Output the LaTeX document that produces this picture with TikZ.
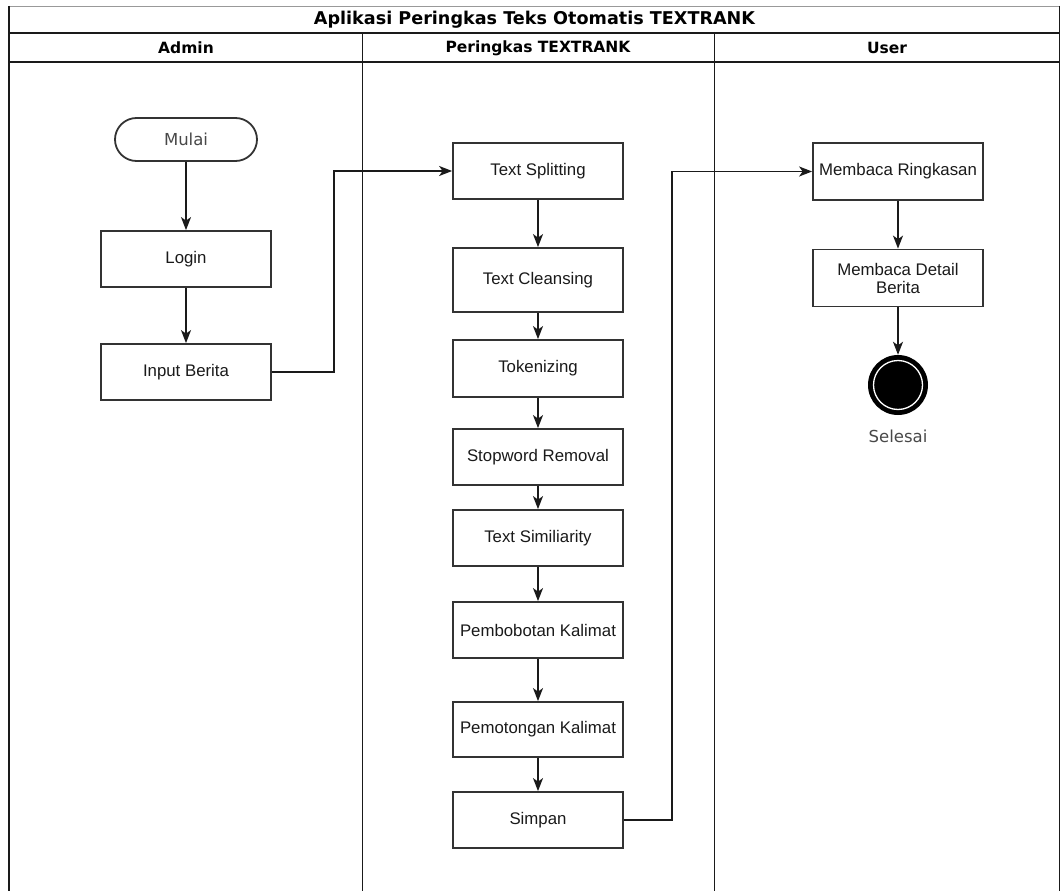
\documentclass[tikz,border=0pt]{standalone}
\usepackage{fontspec}
\setmainfont{Liberation Sans}
\newfontfamily\hdfont{DejaVu Sans}
\usetikzlibrary{arrows.meta}
\definecolor{lineC}{HTML}{1A1A1A}
\definecolor{boxC}{HTML}{333333}
\definecolor{txtC}{HTML}{1A1A1A}
\begin{document}
\begin{tikzpicture}[x=1pt,y=-1pt,
  procbox/.style={draw=boxC,line width=1.8pt,fill=white,minimum width=170pt,minimum height=56pt,inner sep=0pt,align=center,font=\fontsize{16.8}{19}\selectfont,text=txtC},
  pillbox/.style={draw=boxC,line width=1.8pt,fill=white,minimum width=142pt,minimum height=43pt,rounded corners=21.5pt,inner sep=0pt,font=\hdfont\fontsize{16.5}{19}\selectfont,text=txtC!80},
  flow/.style={draw=lineC,line width=1.5pt,-{Stealth[length=13pt,width=10pt,inset=3.5pt]}},
  lanehead/.style={font=\hdfont\bfseries\fontsize{15.5}{18}\selectfont,text=black},
  frameline/.style={draw=lineC,line width=1.7pt}
]
\useasboundingbox (0,0) rectangle (1061,891);
% frame
\draw[draw=gray!80,line width=0.9pt] (9,6) -- (1059.5,6);
\draw[frameline,line width=2.2pt] (9,6) -- (9,895);
\draw[frameline] (1059.5,6) -- (1059.5,895);
\draw[frameline] (9,33) -- (1059.5,33);
\draw[frameline] (9,62) -- (1059.5,62);
\draw[frameline] (362.5,33) -- (362.5,895);
\draw[frameline] (714.5,33) -- (714.5,895);
% titles
\node[lanehead,font=\hdfont\bfseries\fontsize{17.6}{19}\selectfont] (title) at (534.5,20) {Aplikasi Peringkas Teks Otomatis TEXTRANK};
\node[lanehead] (hadmin) at (186,48) {Admin};
\node[lanehead] (hproc) at (538,48) {Peringkas TEXTRANK};
\node[lanehead] (huser) at (887,48) {User};
% admin lane
\node[pillbox] (mulai) at (186,139.5) {Mulai};
\node[procbox] (login) at (186,259) {Login};
\node[procbox] (input) at (186,372) {Input Berita};
% process lane
\node[procbox] (split) at (538,171) {Text Splitting};
\node[procbox,minimum height=64pt] (clean) at (538,280) {Text Cleansing};
\node[procbox,minimum height=57pt] (token) at (538,368.5) {Tokenizing};
\node[procbox] (stop) at (538,457) {Stopword Removal};
\node[procbox] (simil) at (538,538) {Text Similiarity};
\node[procbox] (bobot) at (538,630) {Pembobotan Kalimat};
\node[procbox,minimum height=55pt] (potong) at (538,729.5) {Pemotongan Kalimat};
\node[procbox] (simpan) at (538,820) {Simpan};
% user lane
\node[procbox,minimum height=57pt] (ring) at (898,171.5) {Membaca Ringkasan};
\node[procbox,minimum height=57pt] (detail) at (898,278) {Membaca Detail\\[-1pt]Berita};
\node[circle,fill=black,minimum size=60pt,inner sep=0pt] (endn) at (898,385) {};
\draw[white,line width=1.3pt] (endn.center) circle[radius=24.5pt];
\node[font=\hdfont\fontsize{16.5}{19}\selectfont,text=txtC!80] (selesai) at (898,436) {Selesai};
% connectors
\coordinate (b1) at (334,171);
\coordinate (b2) at (672,171.5);
\draw[flow] (mulai) -- (login);
\draw[flow] (login) -- (input);
\draw[flow] (input.east) -| (b1) -- (split.west);
\draw[flow] (split) -- (clean);
\draw[flow] (clean) -- (token);
\draw[flow] (token) -- (stop);
\draw[flow] (stop) -- (simil);
\draw[flow] (simil) -- (bobot);
\draw[flow] (bobot) -- (potong);
\draw[flow] (potong) -- (simpan);
\draw[flow] (simpan.east) -| (b2) -- (ring.west);
\draw[flow] (ring) -- (detail);
\draw[flow] (detail) -- (endn);
\end{tikzpicture}
\end{document}
